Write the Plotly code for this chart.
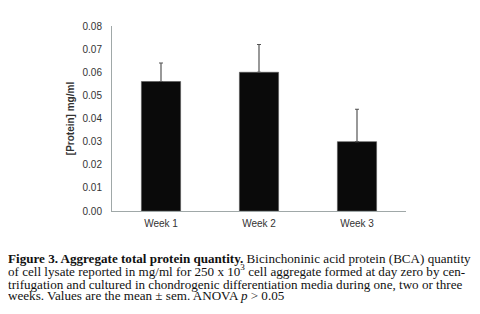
import plotly.graph_objects as go

categories = ["Week 1", "Week 2", "Week 3"]
protein_mean = [0.056, 0.060, 0.030]
protein_sem = [0.008, 0.012, 0.014]
y_ticks = [0.00, 0.01, 0.02, 0.03, 0.04, 0.05, 0.06, 0.07, 0.08]
y_ticklabels = ["%.2f" % v for v in y_ticks]

caption_lines = [
    "<b>Figure 3. Aggregate total protein quantity.</b> Bicinchoninic acid protein (BCA) quantity",
    "of cell lysate reported in mg/ml for 250 x 10<sup>3</sup> cell aggregate formed at day zero by cen-",
    "trifugation and cultured in chondrogenic differentiation media during one, two or three",
    "weeks. Values are the mean ± sem. ANOVA <i>p</i> > 0.05",
]

# page body has an 8px margin, so figure coordinates are screen - 8
W, H = 472, 306
L, R, T, B = 104, 74, 15, 103
ph = H - T - B
pw = W - L - R

fig = go.Figure()
fig.add_trace(go.Bar(
    x=categories, y=protein_mean,
    marker=dict(color="#0a0a0a", line=dict(color="#555555", width=0.6)),
    error_y=dict(type="data", array=protein_sem, arrayminus=[0, 0, 0], symmetric=False,
                 color="#555555", thickness=1.2, width=2),
    width=0.4,
))

fig.update_layout(
    width=W, height=H,
    margin=dict(l=L, r=R, t=T, b=B),
    paper_bgcolor="white", plot_bgcolor="white",
    showlegend=False,
    font=dict(family="Liberation Sans, Arial, sans-serif", size=10, color="#333333"),
    xaxis=dict(showline=True, linecolor="#a0a8a8", linewidth=1, ticks="",
               showgrid=False, tickfont=dict(size=10, color="#333333"), range=[-0.5, 2.5],
               ticklabelstandoff=3),
    yaxis=dict(showline=True, linecolor="#a0a8a8", linewidth=1, ticks="",
               showgrid=False, zeroline=False, range=[0, 0.08],
               tickvals=y_ticks, ticktext=y_ticklabels,
               tickfont=dict(size=10, color="#333333"), ticklabelstandoff=7,
               title=dict(text="<b>[Protein] mg/ml</b>", font=dict(size=10, color="#333333"), standoff=6)),
)

ys = [255, 268, 281, 293]
for line, yp in zip(caption_lines, ys):
    fig.add_annotation(
        text=line, xref="paper", yref="paper",
        x=(-2 - L) / pw, y=1 - (yp + 6 - T) / ph,
        xanchor="left", yanchor="bottom", showarrow=False,
        font=dict(family="Liberation Serif, Times New Roman, serif", size=13.1, color="#111111"),
    )

fig.write_html("out.html")
